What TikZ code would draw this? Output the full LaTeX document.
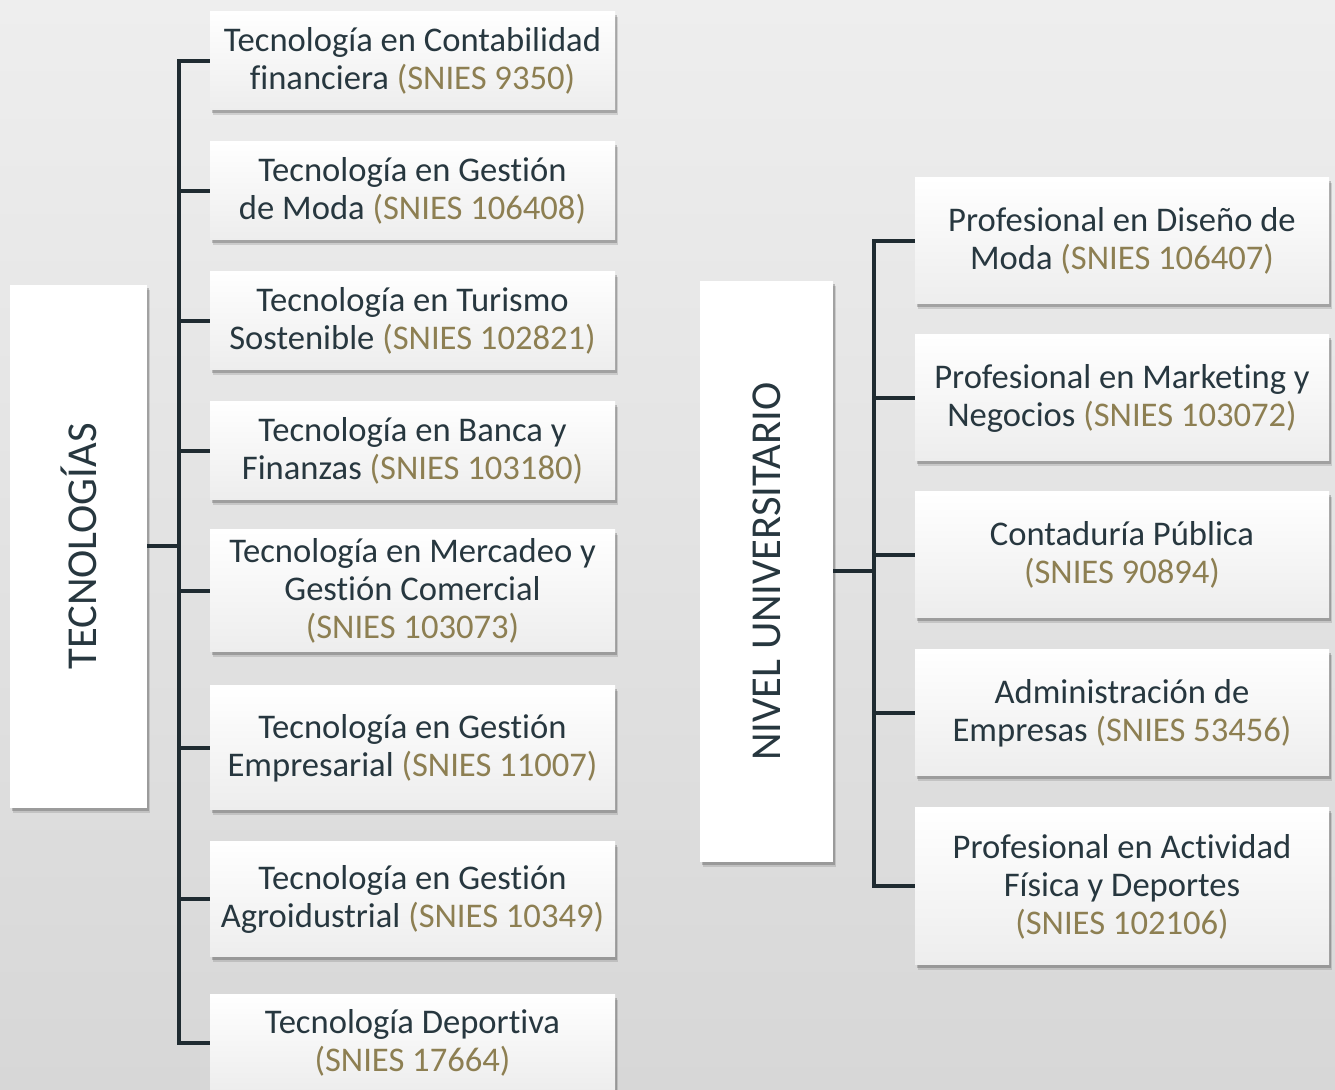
\documentclass[tikz,border=0pt]{standalone}
\usepackage{fontspec}
\setmainfont[RawFeature={-liga;-calt;-clig;-dlig}]{Carlito}
\usetikzlibrary{shadows}
\definecolor{txt}{HTML}{27373F}
\definecolor{snies}{HTML}{8D7F52}
\definecolor{bgtop}{HTML}{EEEEEE}
\definecolor{bgbot}{HTML}{D7D7D7}
\definecolor{boxbot}{HTML}{EDEDED}
\definecolor{linec}{HTML}{1F2B31}
\newcommand\sn[1]{\textcolor{snies}{#1}}
\tikzset{
  shad/.style={general shadow={shadow xshift=1.5pt, shadow yshift=-2.5pt, fill=black, opacity=0.12},
               general shadow={shadow xshift=1pt, shadow yshift=-1.5pt, fill=black, opacity=0.2}},
  pbox/.style={shad, top color=white, bottom color=boxbot, draw=none, inner sep=0pt, align=center,
               text=txt, font=\fontsize{17.3}{19}\selectfont},
  lbox/.style={pbox, minimum width=202.5pt},
  rbox/.style={pbox, minimum width=207pt},
  rootbox/.style={shad, fill=white, draw=none, inner sep=0pt},
  rootlab/.style={rotate=90, text=txt, font=\fontsize{21.3}{24}\selectfont},
  conn/.style={draw=linec, line width=2pt},
}
\begin{document}
\begin{tikzpicture}[x=0.5pt, y=-0.5pt]
\shade[top color=bgtop, bottom color=bgbot] (0,0) rectangle (1335,1090);
\useasboundingbox (0,0) rectangle (1335,1090);

% left column
\node[rootbox, minimum width=68.5pt, minimum height=261.5pt] (tec) at (78.5,546.5) {};
\node[rootlab] (teclab) at (tec.center) {TECNOLOGÍAS};

\node[lbox, minimum height=49pt] (l1) at (412.5,61) {Tecnología en Contabilidad\\financiera \sn{(SNIES 9350)}};
\node[lbox, minimum height=49pt] (l2) at (412.5,191) {Tecnología en Gestión\\de Moda \sn{(SNIES 106408)}};
\node[lbox, minimum height=49pt] (l3) at (412.5,321) {Tecnología en Turismo\\Sostenible \sn{(SNIES 102821)}};
\node[lbox, minimum height=49pt] (l4) at (412.5,451) {Tecnología en Banca y\\Finanzas \sn{(SNIES 103180)}};
\node[lbox, minimum height=61pt] (l5) at (412.5,591) {Tecnología en Mercadeo y\\Gestión Comercial\\\sn{(SNIES 103073)}};
\node[lbox, minimum height=62pt] (l6) at (412.5,748) {Tecnología en Gestión\\Empresarial \sn{(SNIES 11007)}};
\node[lbox, minimum height=57.5pt] (l7) at (412.5,899.5) {Tecnología en Gestión\\Agroidustrial \sn{(SNIES 10349)}};
\node[lbox, minimum height=48pt] (l8) at (412.5,1043) {Tecnología Deportiva\\\sn{(SNIES 17664)}};

\coordinate (tl) at (179,0);
\draw[conn] (l1.west) -- (l1.west -| tl) -- (l8.west -| tl) -- (l8.west);
\foreach \n in {l2,l3,l4,l5,l6,l7} \draw[conn] (\n.west) -- (\n.west -| tl);
\draw[conn] (tec.east) -- (tec.east -| tl);

% right column
\node[rootbox, minimum width=66.5pt, minimum height=290.5pt] (niv) at (766.5,571.5) {};
\node[rootlab] (nivlab) at (niv.center) {NIVEL UNIVERSITARIO};

\node[rbox, minimum height=63pt] (r1) at (1122,241) {Profesional en Diseño de\\Moda \sn{(SNIES 106407)}};
\node[rbox, minimum height=63pt] (r2) at (1122,398) {Profesional en Marketing y\\Negocios \sn{(SNIES 103072)}};
\node[rbox, minimum height=63pt] (r3) at (1122,555) {Contaduría Pública\\\sn{(SNIES 90894)}};
\node[rbox, minimum height=63pt] (r4) at (1122,713) {Administración de\\Empresas \sn{(SNIES 53456)}};
\node[rbox, minimum height=78.5pt] (r5) at (1122,886.5) {Profesional en Actividad\\Física y Deportes\\\sn{(SNIES 102106)}};

\coordinate (tr) at (874,0);
\draw[conn] (r1.west) -- (r1.west -| tr) -- (r5.west -| tr) -- (r5.west);
\foreach \n in {r2,r3,r4} \draw[conn] (\n.west) -- (\n.west -| tr);
\draw[conn] (niv.east) -- (niv.east -| tr);
\end{tikzpicture}
\end{document}
